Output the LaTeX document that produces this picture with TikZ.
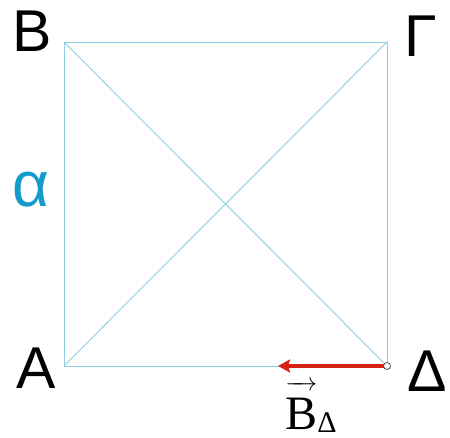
\documentclass[tikz,border=0pt]{standalone}
\usepackage{fontspec}
\setmainfont{Liberation Sans}
\newfontfamily\seriffont{Liberation Serif}
\usetikzlibrary{arrows.meta}
\definecolor{sqline}{RGB}{140,205,228}
\definecolor{alphablue}{RGB}{20,155,205}
\definecolor{vecred}{RGB}{215,35,20}
\begin{document}
\begin{tikzpicture}[x=1pt,y=1pt,
  lbl/.style={inner sep=0pt, font=\fontsize{59}{61}\selectfont},
  sq/.style={draw=sqline, line width=0.9pt},
  force/.style={draw=vecred, line width=3.6pt, -{Stealth[length=12pt,width=13pt,inset=2pt]}},
  pivot/.style={circle, draw=black!70, fill=white, line width=0.8pt, inner sep=0pt, minimum size=7pt}]
\useasboundingbox (0,0) rectangle (450,437);
\coordinate (A) at (64,71);
\coordinate (B) at (64,395);
\coordinate (G) at (387,395);
\coordinate (D) at (387,71);
\coordinate (tip) at (278,71);
\draw[sq] (A) -- (B) -- (G) -- (D) -- cycle;
\draw[sq] (A) -- (G);
\draw[sq] (B) -- (D);
\draw[force] (D) -- (tip);
\node[pivot] (Dp) at (D) {};
\node[lbl] (lB) at (32,406) {B};
\node[lbl] (lG) at (421,401) {Γ};
\node[lbl] (lA) at (36,68.5) {A};
\node[lbl] (lD) at (427,65.5) {Δ};
\node[inner sep=0pt, font=\fontsize{64}{66}\selectfont, text=alphablue] (lal) at (31,247) {α};
\node[inner sep=0pt, anchor=base, font=\seriffont\fontsize{48}{50}\selectfont] (lvec) at (311,8)
  {$\overrightarrow{\hbox{B\rule{0pt}{40pt}}}$\raisebox{-3pt}{\fontsize{30}{30}\selectfont Δ}};
\end{tikzpicture}
\end{document}
